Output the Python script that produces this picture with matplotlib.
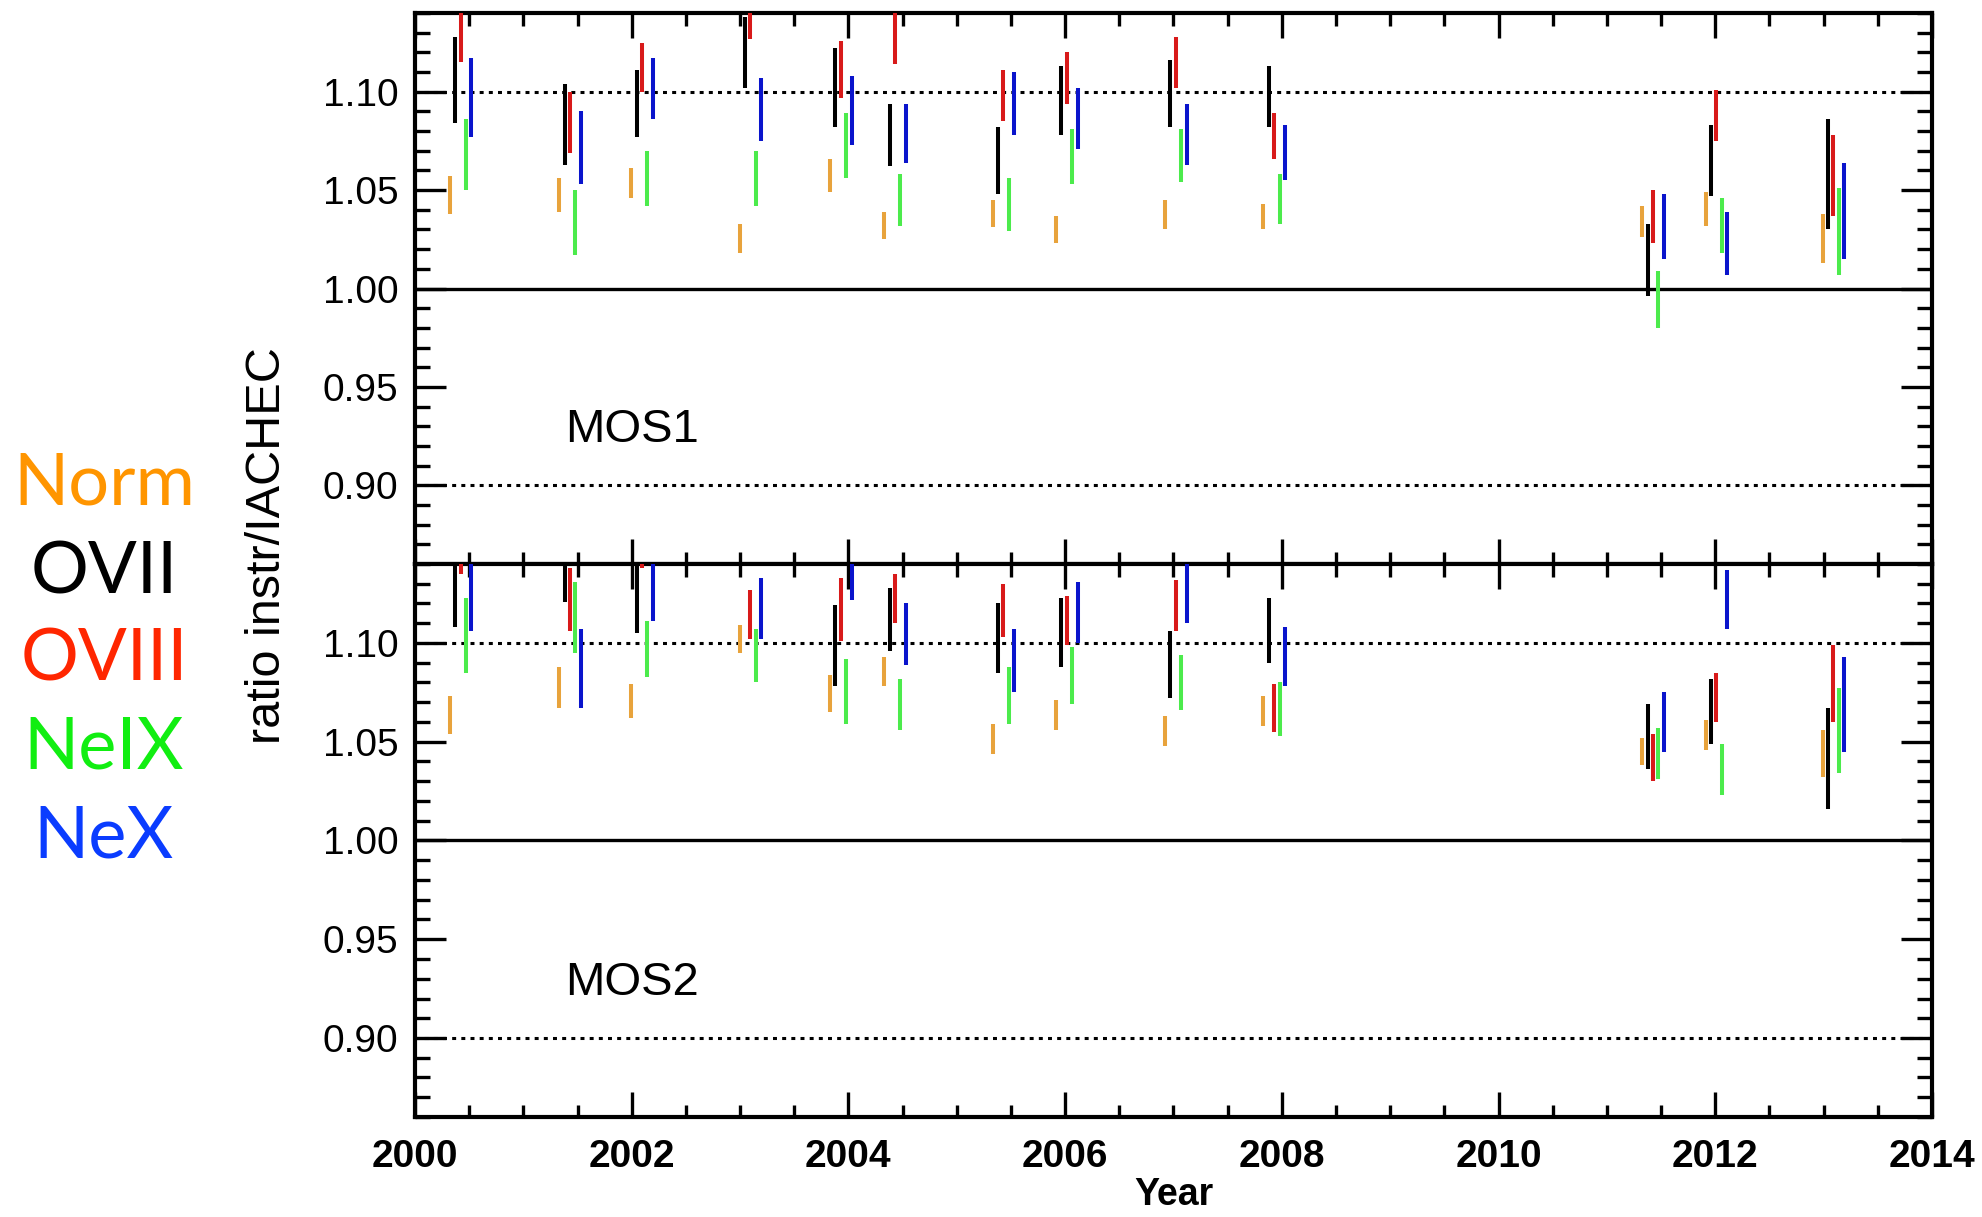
import numpy as np
import matplotlib
matplotlib.use("Agg")
import matplotlib.pyplot as plt
from matplotlib.ticker import MultipleLocator, FixedLocator

# ---------------- data ----------------
group_years = [2000.42, 2001.43, 2002.095, 2003.095, 2003.93, 2004.43, 2005.43,
               2006.015, 2007.02, 2007.93, 2011.425, 2012.01, 2013.09]
series = ["Norm", "OVII", "OVIII", "NeIX", "NeX"]
offsets = [-0.10, -0.05, 0.0, 0.05, 0.10]

# MOS1 (lo, hi)
mos1_norm_lo = [1.038, 1.039, 1.046, 1.018, 1.049, 1.025, 1.031, 1.023, 1.030, 1.030, 1.026, 1.032, 1.013]
mos1_norm_hi = [1.057, 1.056, 1.061, 1.033, 1.066, 1.039, 1.045, 1.037, 1.045, 1.043, 1.042, 1.049, 1.038]
mos1_ovii_lo = [1.084, 1.063, 1.077, 1.102, 1.082, 1.062, 1.048, 1.078, 1.082, 1.082, 0.996, 1.047, 1.030]
mos1_ovii_hi = [1.128, 1.104, 1.111, 1.138, 1.122, 1.094, 1.082, 1.113, 1.116, 1.113, 1.033, 1.083, 1.086]
mos1_oviii_lo = [1.115, 1.069, 1.100, 1.127, 1.097, 1.114, 1.085, 1.094, 1.102, 1.066, 1.023, 1.075, 1.037]
mos1_oviii_hi = [1.150, 1.100, 1.125, 1.150, 1.126, 1.150, 1.111, 1.120, 1.128, 1.089, 1.050, 1.101, 1.078]
mos1_neix_lo = [1.050, 1.017, 1.042, 1.042, 1.056, 1.032, 1.029, 1.053, 1.054, 1.033, 0.980, 1.018, 1.007]
mos1_neix_hi = [1.086, 1.050, 1.070, 1.070, 1.089, 1.058, 1.056, 1.081, 1.081, 1.058, 1.009, 1.046, 1.051]
mos1_nex_lo = [1.077, 1.053, 1.086, 1.075, 1.073, 1.064, 1.078, 1.071, 1.063, 1.055, 1.015, 1.007, 1.015]
mos1_nex_hi = [1.117, 1.090, 1.117, 1.107, 1.108, 1.094, 1.110, 1.102, 1.094, 1.083, 1.048, 1.039, 1.064]

# MOS2 (lo, hi)
mos2_norm_lo = [1.054, 1.067, 1.062, 1.095, 1.065, 1.078, 1.044, 1.056, 1.048, 1.058, 1.038, 1.046, 1.032]
mos2_norm_hi = [1.073, 1.088, 1.079, 1.109, 1.084, 1.093, 1.059, 1.071, 1.063, 1.073, 1.052, 1.061, 1.056]
mos2_ovii_lo = [1.108, 1.121, 1.105, 1.145, 1.078, 1.096, 1.085, 1.088, 1.072, 1.090, 1.036, 1.049, 1.016]
mos2_ovii_hi = [1.150, 1.150, 1.150, 1.170, 1.119, 1.128, 1.120, 1.123, 1.106, 1.123, 1.069, 1.082, 1.067]
mos2_oviii_lo = [1.135, 1.106, 1.138, 1.102, 1.101, 1.110, 1.103, 1.099, 1.106, 1.055, 1.030, 1.060, 1.060]
mos2_oviii_hi = [1.150, 1.138, 1.160, 1.127, 1.133, 1.135, 1.130, 1.124, 1.132, 1.079, 1.054, 1.085, 1.099]
mos2_neix_lo = [1.085, 1.095, 1.083, 1.080, 1.059, 1.056, 1.059, 1.069, 1.066, 1.053, 1.031, 1.023, 1.034]
mos2_neix_hi = [1.123, 1.131, 1.111, 1.107, 1.092, 1.082, 1.088, 1.098, 1.094, 1.080, 1.057, 1.049, 1.077]
mos2_nex_lo = [1.106, 1.067, 1.111, 1.102, 1.122, 1.089, 1.075, 1.100, 1.110, 1.078, 1.045, 1.107, 1.045]
mos2_nex_hi = [1.150, 1.107, 1.150, 1.133, 1.150, 1.120, 1.107, 1.131, 1.150, 1.108, 1.075, 1.137, 1.093]

bar_colors = ["#E8A33C", "#000000", "#D81A1A", "#4CEB4C", "#0A14CC"]
label_colors = ["#FF9500", "#000000", "#FF2600", "#11EE11", "#0A3CFF"]

mos1 = [(mos1_norm_lo, mos1_norm_hi), (mos1_ovii_lo, mos1_ovii_hi), (mos1_oviii_lo, mos1_oviii_hi),
        (mos1_neix_lo, mos1_neix_hi), (mos1_nex_lo, mos1_nex_hi)]
mos2 = [(mos2_norm_lo, mos2_norm_hi), (mos2_ovii_lo, mos2_ovii_hi), (mos2_oviii_lo, mos2_oviii_hi),
        (mos2_neix_lo, mos2_neix_hi), (mos2_nex_lo, mos2_nex_hi)]

# ---------------- figure ----------------
W, H = 1982, 1217
fig = plt.figure(figsize=(W / 100, H / 100), dpi=100)
left, right = 415 / W, 1932 / W
top1, mid, bot = 1 - 13 / H, 1 - 564 / H, 1 - 1117 / H
ax1 = fig.add_axes([left, mid, right - left, top1 - mid])
ax2 = fig.add_axes([left, bot, right - left, mid - bot], sharex=ax1)

tick_font = ["Liberation Sans", "DejaVu Sans"]

for ax, data, name in [(ax1, mos1, "MOS1"), (ax2, mos2, "MOS2")]:
    yrs = np.array(group_years)
    for (lo, hi), off, col in zip(data, offsets, bar_colors):
        ax.vlines(yrs + off, lo, hi, colors=col, linewidth=2.9, zorder=3)
    ax.set_xlim(2000, 2014)
    ax.set_ylim(0.86, 1.14)
    ax.axhline(1.00, color="black", linewidth=2.4, zorder=2)
    for yv in (1.10, 0.90):
        ax.axhline(yv, color="black", linewidth=2.2, linestyle=(0, (1.3, 1.7)), zorder=2)
    ax.yaxis.set_major_locator(FixedLocator([0.90, 0.95, 1.00, 1.05, 1.10]))
    ax.yaxis.set_minor_locator(MultipleLocator(0.01))
    ax.xaxis.set_major_locator(MultipleLocator(2))
    ax.xaxis.set_minor_locator(MultipleLocator(0.5))
    ax.tick_params(axis="both", which="both", direction="in", top=True, right=True, width=2.4)
    ax.tick_params(axis="y", which="major", length=22)
    ax.tick_params(axis="y", which="minor", length=11)
    ax.tick_params(axis="x", which="major", length=18)
    ax.tick_params(axis="x", which="minor", length=9)
    ax.tick_params(axis="y", which="major", pad=12)
    for s in ax.spines.values():
        s.set_linewidth(3.0)
    ax.set_yticklabels(["0.90", "0.95", "1.00", "1.05", "1.10"], family=tick_font,
                       fontsize=28, fontweight="medium")
    ax.text(2001.39, 0.928, name, fontsize=34, family=tick_font, ha="left", va="center")

ax1.tick_params(axis="x", labelbottom=False)
ax2.set_xticks([2000, 2002, 2004, 2006, 2008, 2010, 2012, 2014])
ax2.set_xticklabels(["2000", "2002", "2004", "2006", "2008", "2010", "2012", "2014"],
                    family=tick_font, fontsize=28, fontweight="bold")
ax2.tick_params(axis="x", which="major", pad=16)
ax2.set_xlabel("Year", family=tick_font, fontsize=27, labelpad=1, fontweight="bold")

fig.text(268 / W, 1 - 546 / H, "ratio instr/IACHEC", rotation=90, ha="center", va="center",
         fontsize=35, family=tick_font)

label_y = [484, 573, 660, 748, 837]
for name, col, yp in zip(series, label_colors, label_y):
    fig.text(104 / W, 1 - yp / H, name, color=col, fontsize=52, ha="center", va="center",
             family=["Lato", "Open Sans", "DejaVu Sans"], fontweight="normal")

fig.savefig("out.png", dpi=100)
